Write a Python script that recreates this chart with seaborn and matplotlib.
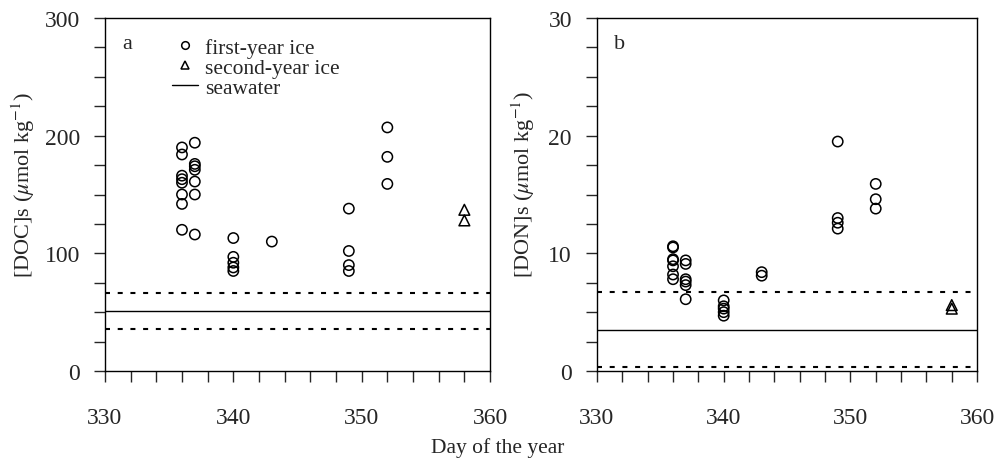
import matplotlib
matplotlib.use("Agg")
import matplotlib.pyplot as plt
from matplotlib.ticker import MultipleLocator
from matplotlib.lines import Line2D
import seaborn as sns
import pandas as pd

# panel a: [DOC]s
doc_fy_day = [336] * 8 + [337] * 7 + [340] * 5 + [343] + [349] * 4 + [352] * 3
doc_fy_val = [190, 184, 166, 163, 160, 150, 142, 120,
              194, 176, 174, 171, 161, 150, 116,
              113, 97, 92, 88, 85,
              110,
              138, 102, 90, 85,
              207, 182, 159]
doc_sy_day = [358, 358]
doc_sy_val = [137, 128]
doc_sw = [51, 66, 36]  # mean, upper, lower

# panel b: [DON]s
don_fy_day = [336] * 7 + [337] * 6 + [340] * 5 + [343] * 2 + [349] * 4 + [352] * 3
don_fy_val = [10.6, 10.5, 9.5, 9.4, 8.9, 8.2, 7.8,
              9.4, 9.1, 7.8, 7.6, 7.3, 6.1,
              6.0, 5.5, 5.3, 5.0, 4.7,
              8.4, 8.1,
              19.5, 13.0, 12.6, 12.1,
              15.9, 14.6, 13.8]
don_sy_day = [358, 358]
don_sy_val = [5.6, 5.3]
don_sw = [3.5, 6.7, 0.3]

sns.set_style("ticks")
plt.rcParams["font.family"] = ["Liberation Serif", "DejaVu Serif"]
plt.rcParams["mathtext.fontset"] = "stix"

fig = plt.figure(figsize=(9.95, 4.6), dpi=100)
ax_a = fig.add_axes([0.1055, 0.1913, 0.387, 0.7674])
ax_b = fig.add_axes([0.600, 0.1913, 0.382, 0.7674])


def draw_panel(ax, fy_day, fy_val, sy_day, sy_val, sw, ymax, ymaj, ymin, label):
    fy = pd.DataFrame({"day": fy_day, "val": fy_val})
    sy = pd.DataFrame({"day": sy_day, "val": sy_val})
    sns.scatterplot(data=fy, x="day", y="val", ax=ax, marker="o", s=55,
                    facecolor="none", edgecolor="black", linewidth=1.1, zorder=3)
    sns.scatterplot(data=sy, x="day", y="val", ax=ax, marker="^", s=60,
                    facecolor="none", edgecolor="black", linewidth=1.1, zorder=3)
    ax.axhline(sw[0], color="black", lw=1.0)
    ax.axhline(sw[1], color="black", lw=1.5, ls=(0, (2.4, 3.7)))
    ax.axhline(sw[2], color="black", lw=1.5, ls=(0, (2.4, 3.7)))
    ax.set_xlim(330, 360)
    ax.set_ylim(0, ymax)
    ax.xaxis.set_major_locator(MultipleLocator(10))
    ax.xaxis.set_minor_locator(MultipleLocator(2))
    ax.yaxis.set_major_locator(MultipleLocator(ymaj))
    ax.yaxis.set_minor_locator(MultipleLocator(ymin))
    ax.tick_params(which="both", direction="out", length=8, width=1, labelsize=17)
    ax.tick_params(axis="x", pad=18)
    ax.tick_params(axis="y", pad=10)
    for sp in ax.spines.values():
        sp.set_visible(True)
        sp.set_linewidth(1.0)
        sp.set_color("black")
    ax.set_xlabel("")
    ax.text(0.045, 0.915, label, transform=ax.transAxes, fontsize=16)


draw_panel(ax_a, doc_fy_day, doc_fy_val, doc_sy_day, doc_sy_val, doc_sw,
           300, 100, 25, "a")
draw_panel(ax_b, don_fy_day, don_fy_val, don_sy_day, don_sy_val, don_sw,
           30, 10, 2.5, "b")

ax_a.set_ylabel(r"[DOC]s ($\mu$mol kg$^{-1}$)", fontsize=16)
ax_b.set_ylabel(r"[DON]s ($\mu$mol kg$^{-1}$)", fontsize=16)
ax_a.yaxis.set_label_coords(-0.176, 0.53)
ax_b.yaxis.set_label_coords(-0.158, 0.53)

handles = [
    Line2D([], [], marker="o", ls="none", mfc="none", mec="black", ms=5.5, mew=1.1),
    Line2D([], [], marker="^", ls="none", mfc="none", mec="black", ms=5.5, mew=1.1),
    Line2D([], [], color="black", lw=1.0),
]
ax_a.legend(handles, ["first-year ice", "second-year ice", "seawater"],
            loc="upper left", bbox_to_anchor=(0.152, 0.969), frameon=False,
            fontsize=15.5, handlelength=1.2, handletextpad=0.35,
            labelspacing=0.0, borderaxespad=0.0, borderpad=0.4)

fig.text(0.5, 0.015, "Day of the year", ha="center", fontsize=15.5)

fig.savefig("out.png", dpi=100)
